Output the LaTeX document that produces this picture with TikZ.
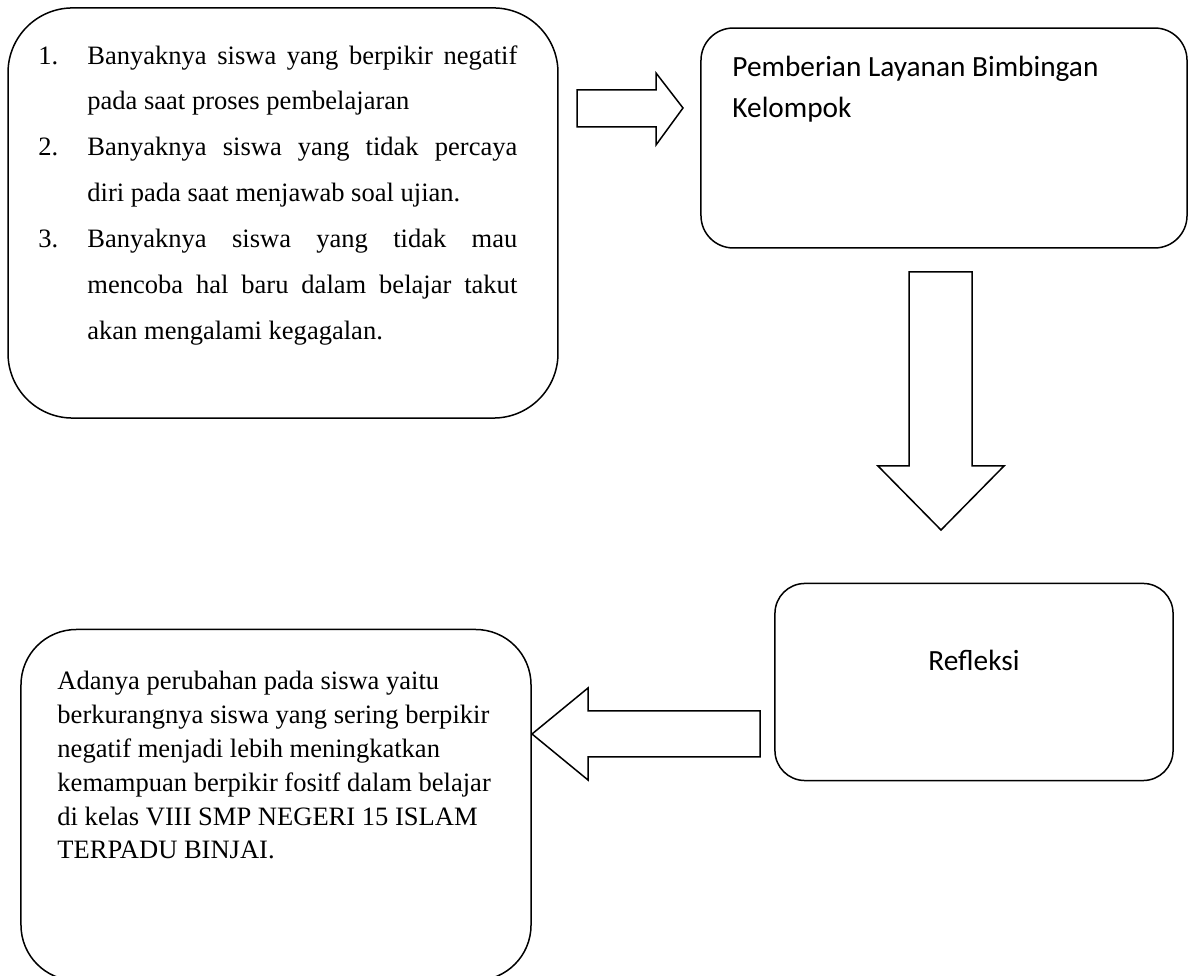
\documentclass[tikz,border=0pt]{standalone}
\usepackage{fontspec}
\setmainfont{Liberation Serif}
\newfontfamily\calibri{Carlito}
\usepackage{tikz}

\tikzset{
	kotak/.style={draw, line width=0.65pt, inner sep=0pt},
	panah/.style={draw, line width=0.65pt, line join=miter},
	teks/.style={inner sep=0pt, anchor=north west}
}

\begin{document}
\begin{tikzpicture}[x=0.4333pt, y=-0.4333pt]
	\useasboundingbox (0,0) rectangle (1193,976);
	\clip (0,0) rectangle (1193,976);

	% kotak-kotak
	\node[kotak, rounded corners=28pt, minimum width=238.3pt, minimum height=177.7pt] (masalah) at (283,213) {};
	\node[kotak, rounded corners=14pt, minimum width=210.6pt, minimum height=95.3pt] (layanan) at (944,138) {};
	\node[kotak, rounded corners=13pt, minimum width=172.5pt, minimum height=85.4pt] (refleksi) at (974,682) {};
	\node[kotak, rounded corners=24pt, minimum width=221pt, minimum height=152.1pt] (hasil) at (276,805) {};

	% isi kotak
	\node[teks, text width=207.5pt, align=justify, font={\fontsize{11.5}{19.85}\selectfont}] (masalahteks) at (38,45) {%
		\hangindent=21.2pt\hangafter=1\noindent\makebox[21.2pt][l]{1.}Banyaknya siswa yang berpikir negatif\linebreak pada saat proses pembelajaran\par
		\hangindent=21.2pt\hangafter=1\noindent\makebox[21.2pt][l]{2.}Banyaknya siswa yang tidak percaya\linebreak diri pada saat menjawab soal ujian.\par
		\hangindent=21.2pt\hangafter=1\noindent\makebox[21.2pt][l]{3.}Banyaknya siswa yang tidak mau\linebreak mencoba hal baru dalam belajar takut\linebreak akan mengalami kegagalan.\par};
	\node[teks, align=left, font={\calibri\fontsize{12.7}{17.8}\selectfont}] (layananteks) at (732,56) {%
		Pemberian Layanan Bimbingan\\Kelompok};
	\node[anchor=base, inner sep=0pt, font={\calibri\fontsize{12.7}{17.8}\selectfont}] (refleksiteks) at (974,671) {Refleksi};
	\node[teks, align=left, font={\fontsize{11.5}{14.65}\selectfont}] (hasilteks) at (57,671) {%
		Adanya perubahan pada siswa yaitu\\
		berkurangnya siswa yang sering berpikir\\
		negatif menjadi lebih meningkatkan\\
		kemampuan berpikir fositf dalam belajar\\
		di kelas VIII SMP NEGERI 15 ISLAM\\
		TERPADU BINJAI.};

	% panah blok
	\draw[panah] (577,90) -- (656,90) -- (656,73) -- (683,108) -- (656,145) -- (656,127) -- (577,127) -- cycle;
	\draw[panah] (909,272) -- (972,272) -- (972,466) -- (1004,466) -- (941,530) -- (878,466) -- (909,466) -- cycle;
	\draw[panah] (760,711) -- (588,711) -- (588,688) -- (532,734) -- (588,780) -- (588,757) -- (760,757) -- cycle;

\end{tikzpicture}
\end{document}
